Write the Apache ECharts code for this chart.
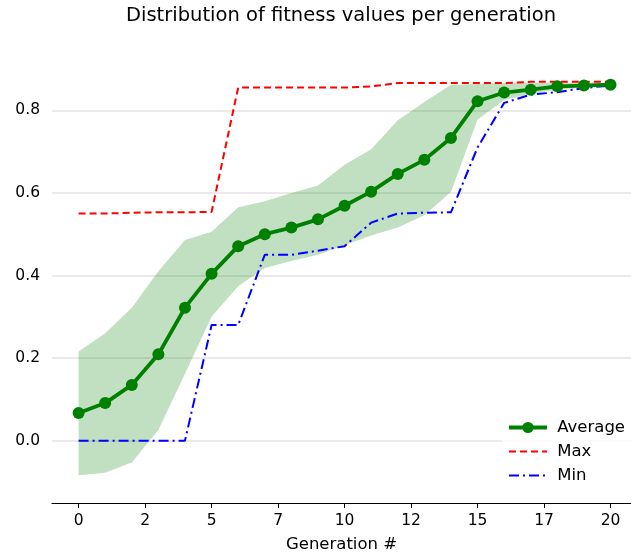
<!DOCTYPE html>
<html>
<head>
<meta charset="utf-8">
<script src="https://cdn.jsdelivr.net/npm/echarts@6/dist/echarts.min.js"></script>
<style>
html,body{margin:0;padding:0;background:#fff;overflow:hidden;}
#chart{width:631px;height:558px;}
</style>
</head>
<body>
<div id="chart"></div>
<script>
const generations = [0,1,2,3,4,5,6,7,8,9,10,11,12,13,14,15,16,17,18,19,20];
const avgFitness = [0.067,0.091,0.135,0.209,0.322,0.404,0.471,0.500,0.516,0.536,0.569,0.603,0.646,0.680,0.733,0.822,0.843,0.850,0.858,0.860,0.862];
const maxFitness = [0.550,0.550,0.552,0.553,0.553,0.554,0.855,0.855,0.855,0.855,0.855,0.858,0.866,0.866,0.866,0.866,0.866,0.869,0.869,0.869,0.869];
const minFitness = [0,0,0,0,0,0.280,0.280,0.450,0.450,0.460,0.471,0.528,0.550,0.552,0.553,0.710,0.818,0.838,0.844,0.854,0.860];
const bandLower = [-0.084,-0.078,-0.053,0.026,0.162,0.300,0.374,0.418,0.435,0.450,0.473,0.497,0.516,0.546,0.602,0.778,0.825,0.840,0.850,0.855,0.860];
const bandUpper = [0.216,0.260,0.322,0.410,0.486,0.506,0.565,0.580,0.600,0.618,0.668,0.706,0.776,0.820,0.862,0.864,0.866,0.867,0.867,0.867,0.867];
const xTickValues = [0,2.5,5,7.5,10,12.5,15,17.5,20];
const yTickValues = [0,0.2,0.4,0.6,0.8];

const FONT = 'DejaVu Sans';
const pairs = arr => generations.map((g,i) => [g, arr[i]]);
const bandData = generations.map((g,i) => [g, bandLower[i], bandUpper[i]]);

function renderBand(params, api) {
  if (params.dataIndex !== 0) return null;
  const upper = bandData.map(d => api.coord([d[0], d[2]]));
  const lower = bandData.map(d => api.coord([d[0], d[1]])).reverse();
  return {
    type:'polygon',
    shape:{points: upper.concat(lower)},
    style:{fill:'rgba(0,128,0,0.245)', stroke:null},
    silent:true
  };
}

const chart = echarts.init(document.getElementById('chart'), null, {renderer:'canvas', width:631, height:558});
chart.setOption({
  animation:false,
  backgroundColor:'#fff',
  textStyle:{fontFamily:FONT},
  title:{
    text:'Distribution of fitness values per generation',
    left:336, top:1, textAlign:'center',
    textStyle:{fontFamily:FONT,fontSize:19.5,fontWeight:'normal',color:'#000'}
  },
  grid:{left:52,width:579,top:62,height:445,containLabel:false},
  legend:{
    data:[
      {name:'Average', lineStyle:{width:4}},
      {name:'Max', itemStyle:{opacity:0}},
      {name:'Min', itemStyle:{opacity:0}}
    ],
    orient:'vertical',
    left:502, top:413,
    padding:[5,8,5,5],
    itemGap:5,
    itemWidth:38, itemHeight:14,
    backgroundColor:'rgba(255,255,255,0.85)',
    formatter: n => ' ' + n,
    textStyle:{fontFamily:FONT,fontSize:16.5,lineHeight:19,color:'#000'}
  },
  xAxis:{
    type:'value', min:-1, max:20.77,
    name:'Generation #', nameLocation:'middle', nameGap:33,
    nameTextStyle:{fontFamily:FONT,fontSize:16.5,color:'#000'},
    axisLine:{show:true,onZero:false,lineStyle:{color:'#000',width:1.2}},
    axisTick:{show:true,length:5,customValues:xTickValues,lineStyle:{color:'#000',width:1}},
    axisLabel:{customValues:xTickValues,fontFamily:FONT,fontSize:15.5,color:'#000',margin:10,
      formatter:v => String(Math.floor(v))},
    splitLine:{show:false}
  },
  yAxis:{
    type:'value', min:-0.151, max:0.917,
    axisLine:{show:false},
    axisTick:{show:false,customValues:yTickValues},
    axisLabel:{customValues:yTickValues,fontFamily:FONT,fontSize:15.5,color:'#000',margin:12,
      formatter:v => v.toFixed(1)},
    splitLine:{show:true,lineStyle:{color:'#e3e3e3',width:1.5}}
  },
  series:[
    {name:'band',type:'custom',data:bandData,renderItem:renderBand,
      encode:{x:0,y:[1,2]},silent:true,clip:true,z:1},
    {name:'Max',type:'line',data:pairs(maxFitness),symbol:'none',
      itemStyle:{color:'#ff0000'},
      lineStyle:{color:'#ff0000',width:2,type:[7,4]},z:3},
    {name:'Min',type:'line',data:pairs(minFitness),symbol:'none',
      itemStyle:{color:'#0000ff'},
      lineStyle:{color:'#0000ff',width:2,type:[10,4,2,4]},z:3},
    {name:'Average',type:'line',data:pairs(avgFitness),symbol:'circle',symbolSize:12,
      itemStyle:{color:'#008000'},
      lineStyle:{color:'#008000',width:3.8},z:4}
  ]
});
</script>
</body>
</html>
